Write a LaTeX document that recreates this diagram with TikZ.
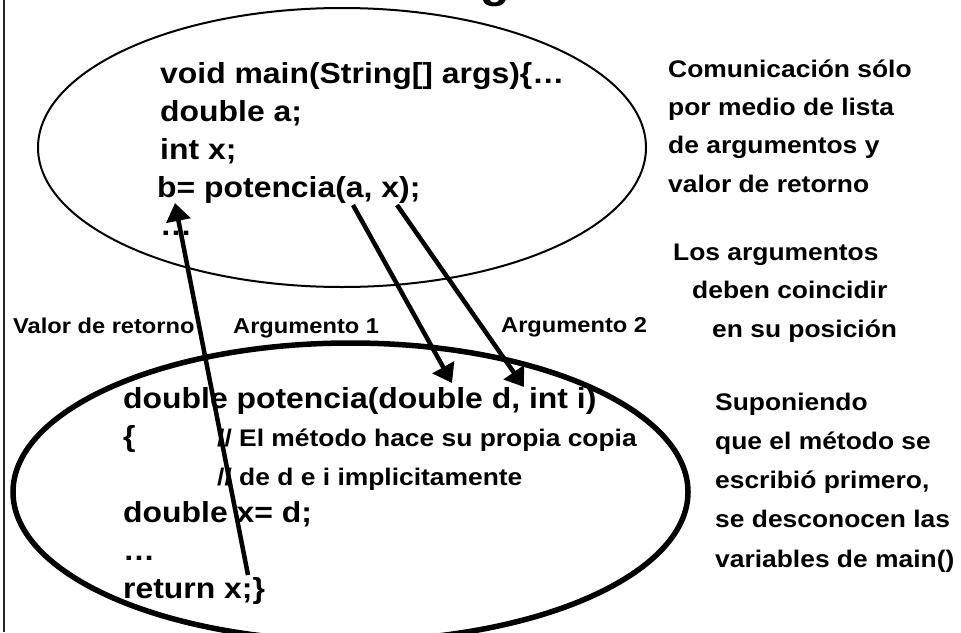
\documentclass[tikz,border=0pt]{standalone}
\usepackage{fontspec}
\setmainfont{Liberation Sans}[FakeStretch=1.1]
\usetikzlibrary{shapes.geometric, arrows.meta, positioning}

\newcommand{\codefont}{\fontsize{29}{38}\selectfont\bfseries}
\newcommand{\notefont}{\fontsize{24}{38.3}\selectfont\bfseries}
\newcommand{\labelfont}{\fontsize{21.5}{26}\selectfont\bfseries}

\begin{document}
\begin{tikzpicture}[
    x=1pt, y=-1pt,
    code/.style={font=\codefont, align=left, anchor=base west, inner sep=0pt},
    note/.style={font=\notefont, align=left, anchor=base west, inner sep=0pt},
    tag/.style={font=\labelfont, anchor=base west, inner sep=0pt},
    scopeoval/.style={ellipse, draw, inner sep=0pt},
    pass/.style={-{Triangle[length=18pt, width=24pt]}, line width=4.5pt}
]
\clip (0,0) rectangle (961,632);

% Frame and title remnant
\draw[line width=1.5pt, black!85] (4,0) -- (4,632);
\node[anchor=base west, inner sep=0pt, font=\fontsize{44}{50}\selectfont\bfseries] (titulo) at (480,-2.5) {g};

% Scopes: caller and method
\node[scopeoval, line width=2pt, minimum width=608, minimum height=279] (main_ell) at (342,147.5) {};
\node[scopeoval, line width=5.5pt, minimum width=675, minimum height=298] (metodo_ell) at (350.5,492) {};

% Code of main() (anchored on its last line)
\node[code] (main_code) at (160,235) {void main(String[] args)\{…\\double a;\\int x;\\\hspace*{-3pt}b= potencia(a, x);\\…};

% Code of the method
\node[code] (metodo_code) at (123,598) {double potencia(double d, int i)\\\{\\\mbox{}\\double x= d;\\…\\return x;\}};
\node[note] (comentario) at (217,485) {// El método hace su propia copia\\// de d e i implicitamente};

% Connector labels
\node[tag] (lbl_ret) at (13,333) {Valor de retorno};
\node[tag] (lbl_arg1) at (233,333) {Argumento 1};
\node[tag] (lbl_arg2) at (501,332) {Argumento 2};

% Side notes
\node[note] (nota_com) at (668,192) {Comunicación sólo\\por medio de lista\\de argumentos y\\valor de retorno};
\node[note] (nota_pos) at (673,337) {Los argumentos\\\hspace*{19pt}deben coincidir\\\hspace*{39pt}en su posición};
\node[note, font=\fontsize{24}{39.2}\selectfont\bfseries] (nota_orden) at (715,567) {Suponiendo\\que el método se\\escribió primero,\\se desconocen las\\variables de main()};

% Arrow ends
\coordinate (ret_from) at (248,575);
\coordinate (ret_to) at (175,203);
\coordinate (a_from) at (353,205);
\coordinate (a_to) at (452,383);
\coordinate (x_from) at (397,205);
\coordinate (x_to) at (524,387);

\draw[pass] (ret_from) -- (ret_to);
\draw[pass] (a_from) -- (a_to);
\draw[pass] (x_from) -- (x_to);

\end{tikzpicture}
\end{document}
